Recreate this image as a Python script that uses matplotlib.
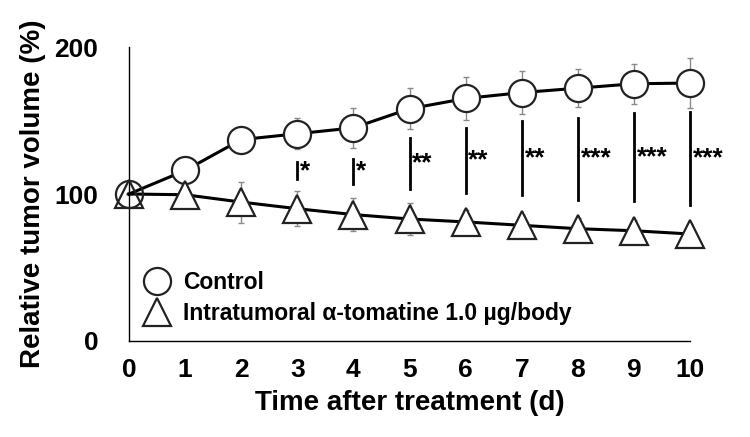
import matplotlib
matplotlib.use("Agg")
import matplotlib.pyplot as plt
import numpy as np
from matplotlib.lines import Line2D

days = [0, 1, 2, 3, 4, 5, 6, 7, 8, 9, 10]
control = [100, 116, 137, 141, 145, 158, 165, 169, 172, 175, 175.5]
control_err = [0, 6, 8, 10.5, 13.5, 14, 14.5, 14.7, 13, 13.6, 16.8]
treated = [100, 99.5, 94.5, 90, 86, 83, 81, 78.7, 76.4, 75, 72.8]
treated_err = [0, 6, 14, 12, 11.5, 11, 8, 7, 7, 7, 7]

sig_days = [3, 4, 5, 6, 7, 8, 9, 10]
sig_top = [121.5, 124, 138.4, 145, 149.7, 152, 155.4, 155.8]
sig_bottom = [110, 106.5, 103.5, 100.8, 99, 96.2, 95.1, 92.8]
sig_labels = ["*", "*", "**", "**", "**", "***", "***", "***"]

x_ticks = [0, 1, 2, 3, 4, 5, 6, 7, 8, 9, 10]
y_ticks = [0, 100, 200]

plt.rcParams['font.family'] = ['Liberation Sans', 'DejaVu Sans']

fig = plt.figure(figsize=(7.5, 4.37), dpi=100)
ax = fig.add_axes([0.172, 0.2197, 0.748, 0.6727])

ms = 19.5
# error bars
ax.errorbar(days, control, yerr=control_err, fmt='none', ecolor='#8a8a8a',
            elinewidth=1.0, capsize=2.2, capthick=1.0, zorder=1, clip_on=False)
ax.errorbar(days, treated, yerr=treated_err, fmt='none', ecolor='#8a8a8a',
            elinewidth=1.0, capsize=2.2, capthick=1.0, zorder=1, clip_on=False)

# lines
ax.plot(days, control, color='black', lw=2.2, zorder=2, clip_on=False)
ax.plot(days, treated, color='black', lw=2.2, zorder=2, clip_on=False)

# markers (filled white except day 0)
ax.plot(days[1:], control[1:], ls='none', marker='o', ms=ms, mfc='white',
        mec='#222222', mew=1.6, zorder=3, clip_on=False)
ax.plot(days[1:], treated[1:], ls='none', marker='^', ms=ms, mfc='white',
        mec='#222222', mew=1.6, zorder=3, clip_on=False)
ax.plot(days[:1], control[:1], ls='none', marker='o', ms=ms, mfc='none',
        mec='#222222', mew=1.6, zorder=3, clip_on=False)
ax.plot(days[:1], treated[:1], ls='none', marker='^', ms=ms, mfc='none',
        mec='#222222', mew=1.6, zorder=3, clip_on=False)

# significance bars
for d, t, b, lab in zip(sig_days, sig_top, sig_bottom, sig_labels):
    ax.plot([d, d], [b, t], color='black', lw=2.0, zorder=2, clip_on=False)
    ax.annotate(lab, xy=(d, (t + b) / 2), xytext=(2, 0), textcoords='offset points',
                ha='left', va='center', fontsize=19, fontweight='bold',
                annotation_clip=False)

# legend
handles = [Line2D([], [], ls='none', marker='o', ms=ms, mfc='white', mec='#222222', mew=1.6),
           Line2D([], [], ls='none', marker='^', ms=ms, mfc='white', mec='#222222', mew=1.6)]
ax.legend(handles, ['Control', 'Intratumoral α-tomatine 1.0 µg/body'],
          loc='lower left', bbox_to_anchor=(-0.004, 0.0), frameon=False,
          prop={'weight': 'bold', 'size': 16.5}, handlelength=1.2,
          handletextpad=0.57, labelspacing=0.35, borderaxespad=0.3)

ax.set_xlim(0, 10)
ax.set_ylim(0, 200)
ax.set_xticks(x_ticks)
ax.set_yticks(y_ticks)
ax.tick_params(axis='both', length=0, labelsize=19)
ax.tick_params(axis='x', pad=12)
ax.tick_params(axis='y', pad=22)
for lab in ax.get_xticklabels() + ax.get_yticklabels():
    lab.set_fontweight('bold')
ax.spines['top'].set_visible(False)
ax.spines['right'].set_visible(False)
ax.spines['left'].set_linewidth(1.0)
ax.spines['bottom'].set_linewidth(1.0)

ax.set_xlabel('Time after treatment (d)', fontsize=20, fontweight='bold', labelpad=6)
ax.set_ylabel('Relative tumor volume (%)', fontsize=20, fontweight='bold', labelpad=6)

fig.savefig('out.png', dpi=100)
